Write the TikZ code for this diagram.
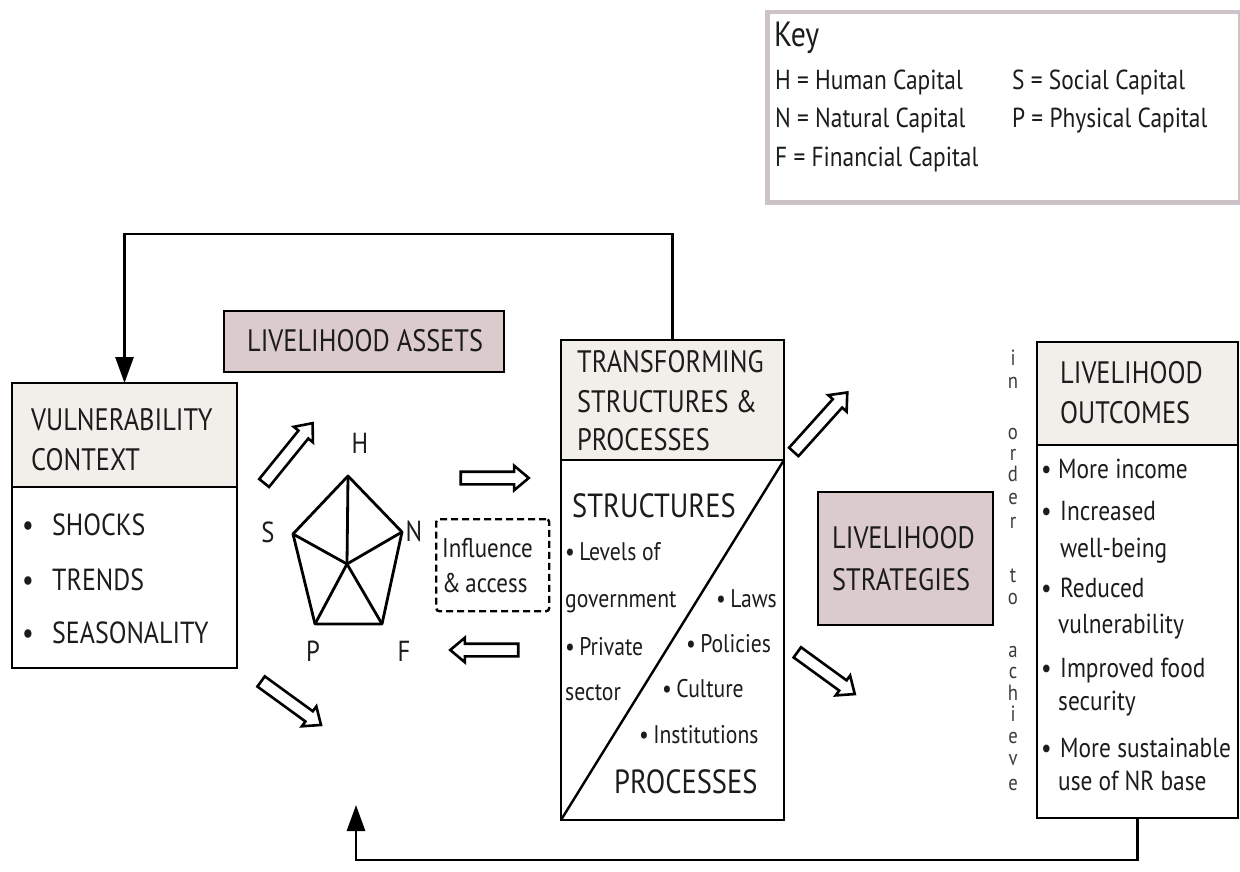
\documentclass[tikz,border=0pt]{standalone}
\usepackage{fontspec}
\setmainfont{PT Sans}[FakeStretch=0.85]
\usetikzlibrary{shapes.arrows,arrows.meta}
\definecolor{pinkbox}{HTML}{DCCBCC}
\definecolor{headbox}{HTML}{F2EEEA}
\definecolor{keyedge}{HTML}{CDC2C7}
\definecolor{txt}{HTML}{1C1C1C}
\definecolor{vtxt}{HTML}{3C3C3C}
\newcommand\vlet[2]{\makebox[0pt]{\raisebox{-#1pt}{#2}}}
\begin{document}
\begin{tikzpicture}[x=1pt,y=-1pt,
  frame/.style={draw=black, line width=2.8pt, inner sep=0pt, outer sep=0pt, anchor=north west},
  t/.style={anchor=base west, inner sep=0pt, text=txt},
  hdr/.style={t, font=\fontsize{31}{31}\selectfont},
  bul/.style={t, font=\fontsize{30.5}{30.5}\selectfont},
  sml/.style={t, font=\fontsize{25.5}{25.5}\selectfont},
  outtxt/.style={t, font=\fontsize{27.5}{27.5}\selectfont},
  keyt/.style={t, font=\fontsize{27.5}{27.5}\selectfont},
  lab/.style={anchor=center, inner sep=0pt, text=txt, font=\fontsize{29}{29}\selectfont},
  vt/.style={anchor=base, inner sep=0pt, text=vtxt, font=\fontsize{22}{22}\selectfont},
  hollow/.style={single arrow, draw=black, line width=2.6pt, fill=white, minimum height=#1, inner sep=5pt, single arrow head extend=6pt, single arrow tip angle=80},
  fb/.style={line width=2.8pt, -{Triangle[length=26pt,width=18pt]}},
]
\useasboundingbox (0,0) rectangle (1240,872);
\fill[white] (0,0) rectangle (1240,872);

% Key
\node[draw=keyedge, line width=4.5pt, anchor=north west, minimum width=473pt, minimum height=190pt, inner sep=0pt] (key) at (765,10) {};
\node[t, font=\fontsize{35}{35}\selectfont] (keyK) at (774,47) {Key};
\node[keyt] (keyH) at (775,90) {H = Human Capital};
\node[keyt] (keyN) at (775,128) {N = Natural Capital};
\node[keyt] (keyF) at (775,167) {F = Financial Capital};
\node[keyt] (keyS) at (1012,90) {S = Social Capital};
\node[keyt] (keyP) at (1012,128) {P = Physical Capital};

% Vulnerability context
\node[frame, fill=headbox, minimum width=225pt, minimum height=104pt] (vulnH) at (12,383) {};
\node[frame, fill=white, minimum width=225pt, minimum height=181pt] (vulnB) at (12,487) {};
\node[hdr] (vt1) at (31,430) {VULNERABILITY};
\node[hdr] (vt2) at (31,470) {CONTEXT};
\node[bul] (vb1) at (22,535) {\textbullet};
\node[bul] (vb2) at (22,590) {\textbullet};
\node[bul] (vb3) at (22,643) {\textbullet};
\node[bul] (vs1) at (52,535) {SHOCKS};
\node[bul] (vs2) at (52,590) {TRENDS};
\node[bul] (vs3) at (52,643) {SEASONALITY};

% Livelihood assets
\node[frame, fill=pinkbox, minimum width=280pt, minimum height=61pt] (assets) at (224,311) {};
\node[hdr] (assetsT) at (247,351) {LIVELIHOOD ASSETS};

% Pentagon
\coordinate (pH) at (348,476);
\coordinate (pS) at (293,534);
\coordinate (pN) at (402,532);
\coordinate (pP) at (315,624);
\coordinate (pF) at (382,624);
\coordinate (pC) at (347,564);
\draw[line width=2.8pt, line join=round] (pH) -- (pN) -- (pF) -- (pP) -- (pS) -- cycle;
\foreach \v in {pH,pN,pF,pP,pS} \draw[line width=2.8pt] (pC) -- (\v);
\node[lab] (lH) at (360,443) {H};
\node[lab] (lS) at (268,532) {S};
\node[lab] (lN) at (414,531) {N};
\node[lab] (lP) at (313,651) {P};
\node[lab] (lF) at (404,651) {F};

% Influence & access
\node[draw=black, line width=2.4pt, dash pattern=on 7pt off 4pt, rounded corners=3pt, anchor=north west, minimum width=113pt, minimum height=92pt, inner sep=0pt] (infl) at (435,518) {};
\node[t, font=\fontsize{27}{27}\selectfont] (infl1) at (442,557) {Influence};
\node[t, font=\fontsize{27}{27}\selectfont] (infl2) at (442,592) {\&\,access};

% Transforming structures
\node[frame, fill=headbox, minimum width=223pt, minimum height=120pt] (trH) at (561,340) {};
\node[frame, fill=white, minimum width=223pt, minimum height=360pt] (trB) at (561,460) {};
\draw[line width=2.4pt] (trB.south west) -- (trB.north east);
\node[hdr] (tr1) at (577,372) {TRANSFORMING};
\node[hdr] (tr2) at (577,412) {STRUCTURES \&};
\node[hdr] (tr3) at (577,450) {PROCESSES};
\node[t, font=\fontsize{33.5}{33.5}\selectfont] (trS) at (572,517) {STRUCTURES};
\node[t, font=\fontsize{33.5}{33.5}\selectfont] (trP) at (614,793) {PROCESSES};
\node[sml] (s1) at (565,560) {\textbullet\,Levels of};
\node[sml] (s2) at (565,607) {government};
\node[sml] (s3) at (565,655) {\textbullet\,Private};
\node[sml] (s4) at (565,700) {sector};
\node[sml] (p1) at (716,607) {\textbullet\,Laws};
\node[sml] (p2) at (686,652) {\textbullet\,Policies};
\node[sml] (p3) at (662,697) {\textbullet\,Culture};
\node[sml] (p4) at (639,743) {\textbullet\,Institutions};

% Livelihood strategies
\node[frame, fill=pinkbox, minimum width=175pt, minimum height=133pt] (strat) at (818,492) {};
\node[hdr] (st1) at (832,548) {LIVELIHOOD};
\node[hdr] (st2) at (832,590) {STRATEGIES};

% in order to achieve (one stacked text)
\node[vt] (inorder) at (1013,365) {\vlet{0}{i}\vlet{23.5}{n}\vlet{74}{o}\vlet{95}{r}\vlet{116}{d}\vlet{139}{e}\vlet{163}{r}\vlet{217.5}{t}\vlet{239}{o}\vlet{292.5}{a}\vlet{313.5}{c}\vlet{335}{h}\vlet{356.5}{i}\vlet{378}{e}\vlet{400.5}{v}\vlet{425.5}{e}};

% Livelihood outcomes
\node[frame, fill=headbox, minimum width=201pt, minimum height=103pt] (outH) at (1037,342) {};
\node[frame, fill=white, minimum width=201pt, minimum height=373pt] (outB) at (1037,445) {};
\node[hdr] (o1) at (1060,383) {LIVELIHOOD};
\node[hdr] (o2) at (1060,423) {OUTCOMES};
\foreach \y in {478,520,597,677,757} \node[outtxt] (ob\y) at (1041,\y) {\textbullet};
\node[outtxt] (oa) at (1058,478) {More income};
\node[outtxt] (ob) at (1060,520) {Increased};
\node[outtxt] (oc) at (1060,557) {well-being};
\node[outtxt] (od) at (1060,597) {Reduced};
\node[outtxt] (oe) at (1058,633) {vulnerability};
\node[outtxt] (of) at (1060,677) {Improved food};
\node[outtxt] (og) at (1058,710) {security};
\node[outtxt] (oh) at (1060,757) {More sustainable};
\node[outtxt] (oi) at (1058,790) {use of NR base};

% Hollow arrows
\node[hollow=77, rotate=51] (a1) at (286,456) {};
\node[hollow=74, rotate=-36] (a2) at (288,701) {};
\node[hollow=68] (a3) at (491,478) {};
\node[hollow=68, rotate=180] (a4) at (488,650) {};
\node[hollow=80, rotate=48] (a5) at (818,425) {};
\node[hollow=71, rotate=-36] (a6) at (823,671) {};

% Feedback loops
\coordinate (topY) at (0,234);
\coordinate (botY) at (0,860);
\coordinate (fbEnd) at (356,805);
\draw[fb] (trH.north) -- (trH.north |- topY) -| (vulnH.north);
\draw[fb] (outB.south) -- (outB.south |- botY) -| (fbEnd);
\end{tikzpicture}
\end{document}
